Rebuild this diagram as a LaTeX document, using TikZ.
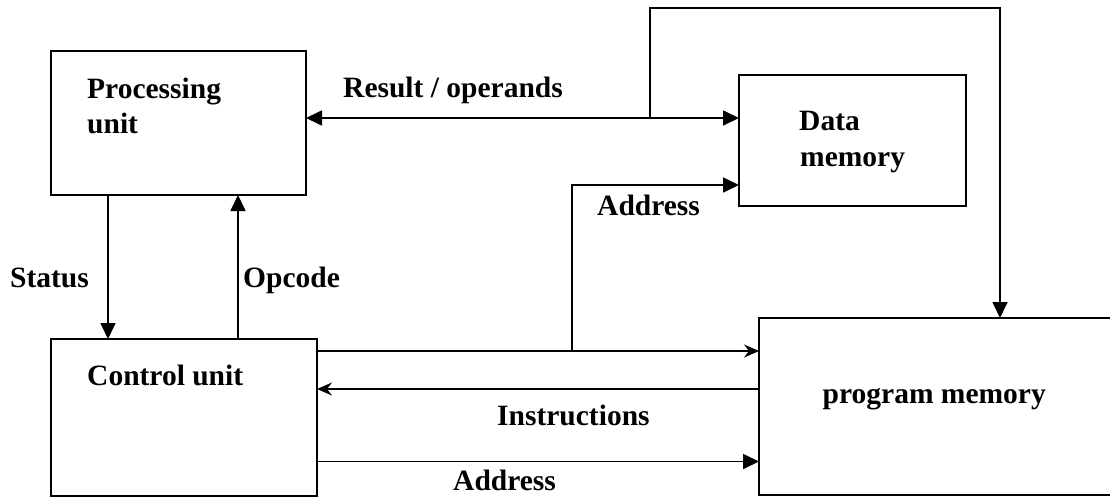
\documentclass[tikz,border=0pt]{standalone}
\usepackage{fontspec}
\setmainfont{Liberation Serif}
\usetikzlibrary{arrows.meta}
\begin{document}
\begin{tikzpicture}[x=1pt,y=-1pt,
  box/.style={draw,line width=1.8pt,inner sep=0pt,outer sep=0pt,rectangle},
  lbl/.style={anchor=base west,inner sep=0pt,font=\fontsize{29.5}{34}\selectfont\bfseries},
  conn/.style={line width=1.7pt},
  tri/.style={-{Triangle[length=16pt,width=15pt]}},
  stl/.style={-{Stealth[length=15pt,width=13pt,inset=5pt]}},
  bitri/.style={{Triangle[length=16pt,width=15pt]}-{Triangle[length=16pt,width=15pt]}}]
\useasboundingbox (0,0) rectangle (1110,498);
\clip (0,0) rectangle (1110,498);
\fill[white] (0,0) rectangle (1110,498);
% boxes
\node[box,minimum width=255pt,minimum height=144pt] (PU) at (178.5,123) {};
\node[box,minimum width=227pt,minimum height=131pt] (DM) at (852.5,140.5) {};
\node[box,minimum width=266pt,minimum height=157pt] (CU) at (184,417.5) {};
\node[box,minimum width=361pt,minimum height=177pt] (PM) at (939.5,406.5) {};
% labels
\node[lbl] (tPU1) at (87,98) {Processing};
\node[lbl] (tPU2) at (87,133) {unit};
\node[lbl] (tDM1) at (799,130) {Data};
\node[lbl] (tDM2) at (800,166) {memory};
\node[lbl] (tCU) at (87,385) {Control unit};
\node[lbl] (tPM) at (822.5,403) {program memory};
\node[lbl] (tRes) at (343,97) {Result / operands};
\node[lbl] (tAd1) at (597,215) {Address};
\node[lbl] (tSt) at (10,287) {Status};
\node[lbl] (tOp) at (243,287) {Opcode};
\node[lbl] (tIn) at (497,425) {Instructions};
\node[lbl] (tAd2) at (453,490) {Address};
% helper coordinates
\coordinate (ry) at (0,118);
\coordinate (j1) at (650,118);
\coordinate (t1) at (650,8);
\coordinate (t2) at (1000,8);
\coordinate (sx) at (108,0);
\coordinate (ox) at (238,0);
\coordinate (r1) at (0,351);
\coordinate (r2) at (0,389);
\coordinate (r3) at (0,461.5);
\coordinate (j2) at (572,351);
\coordinate (a1) at (572,185);
% connectors
\draw[conn,bitri] (PU.east |- ry) -- (DM.west |- ry);
\draw[conn,tri] (j1) -- (t1) -- (t2) -- (t2 |- PM.north);
\draw[conn,tri] (PU.south -| sx) -- (CU.north -| sx);
\draw[conn,tri] (CU.north -| ox) -- (PU.south -| ox);
\draw[conn,stl] (CU.east |- r1) -- (PM.west |- r1);
\draw[conn,tri] (j2) -- (a1) -- (DM.west |- a1);
\draw[conn,stl] (PM.west |- r2) -- (CU.east |- r2);
\draw[conn,tri] (CU.east |- r3) -- (PM.west |- r3);
\end{tikzpicture}
\end{document}
